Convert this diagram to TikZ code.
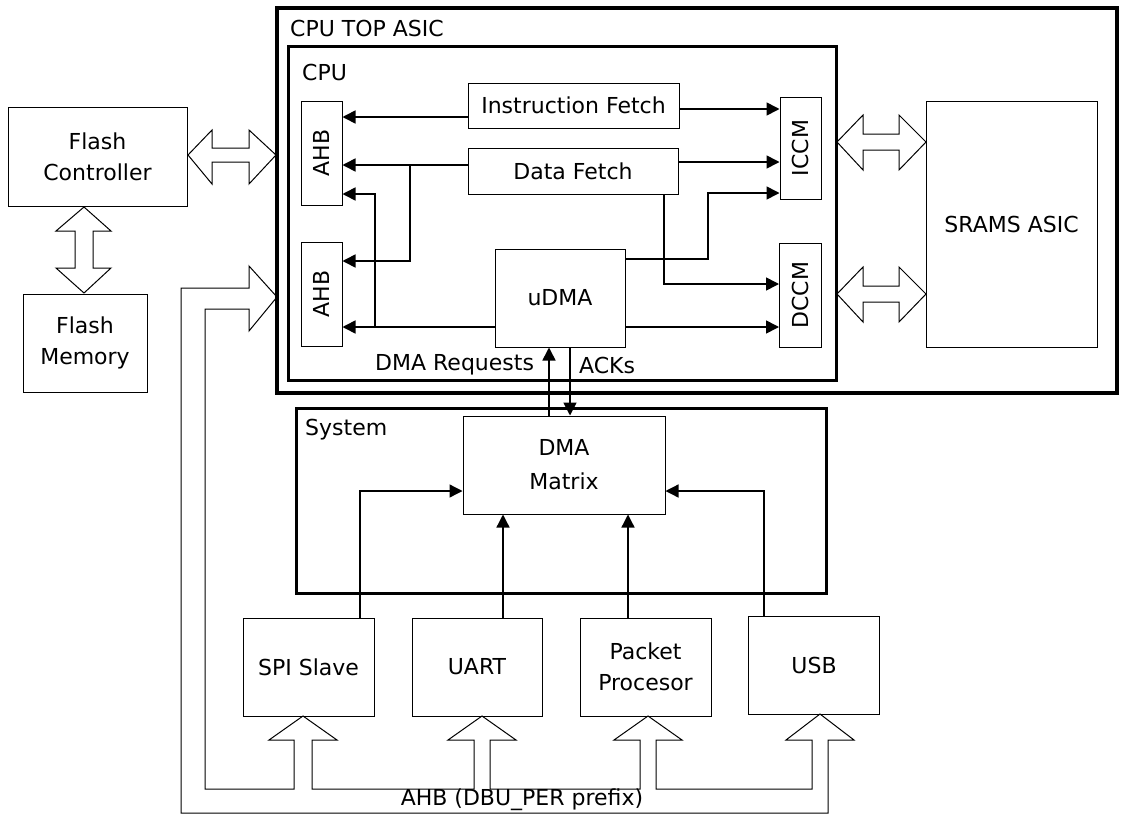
\documentclass[tikz,border=0pt]{standalone}
\usepackage{fontspec}
\setmainfont{DejaVu Sans}
\usepackage{graphicx}
\usetikzlibrary{arrows.meta}

\begin{document}
\begin{tikzpicture}[x=1pt, y=-1pt,
    box/.style={draw, line width=1pt, inner sep=0pt, align=center, font=\fontsize{22}{31}\selectfont},
    frame/.style={draw, inner sep=0pt},
    lbl/.style={anchor=west, inner sep=0pt, font=\fontsize{22}{31}\selectfont},
    sig/.style={-{Triangle[length=13pt, width=13pt]}, line width=1.6pt},
    bus/.style={draw, line width=1pt, line join=miter}]

    \useasboundingbox (0,0) rectangle (1130,825);

    % frames
    \node [frame, line width=4.5pt, minimum width=840pt, minimum height=385pt] (cputop) at (697,200.5) {};
    \node [lbl] (cputoplbl) at (290,28) {CPU TOP ASIC};
    \node [frame, line width=3pt, minimum width=548pt, minimum height=334pt] (cpu) at (562,213) {};
    \node [lbl] (cpulbl) at (302,72) {CPU};
    \node [frame, line width=3pt, minimum width=530pt, minimum height=185pt] (system) at (561,500.5) {};
    \node [lbl] (systemlbl) at (305,430) {System};

    % blocks
    \node [box, minimum width=179pt, minimum height=99pt] (flashctrl) at (97.5,156.5) {Flash\\Controller};
    \node [box, minimum width=124pt, minimum height=98pt] (flashmem) at (85,343) {Flash\\Memory};
    \node [box, minimum width=41pt, minimum height=104pt] (ahbA) at (321.5,153) {\rotatebox{90}{AHB}};
    \node [box, minimum width=41pt, minimum height=104pt] (ahbB) at (321.5,294) {\rotatebox{90}{AHB}};
    \node [box, minimum width=211pt, minimum height=45pt] (ifetch) at (573.5,105.5) {Instruction Fetch};
    \node [box, minimum width=210pt, minimum height=46pt] (dfetch) at (573,171) {Data Fetch};
    \node [box, minimum width=41pt, minimum height=102pt] (iccm) at (800.5,148) {\rotatebox{90}{ICCM}};
    \node [box, minimum width=42pt, minimum height=104pt] (dccm) at (800.5,295) {\rotatebox{90}{DCCM}};
    \node [box, minimum width=130pt, minimum height=98pt] (udma) at (560,298) {uDMA};
    \node [box, minimum width=171pt, minimum height=246pt] (srams) at (1011.5,224) {SRAMS ASIC};
    \node [box, minimum width=202pt, minimum height=98pt, font=\fontsize{22}{34}\selectfont] (dmamx) at (564,465) {DMA\\Matrix};
    \node [box, minimum width=131pt, minimum height=98pt] (spi) at (308.5,667) {SPI Slave};
    \node [box, minimum width=130pt, minimum height=98pt] (uart) at (477,667) {UART};
    \node [box, minimum width=131pt, minimum height=98pt] (pkt) at (645.5,667) {Packet\\Procesor};
    \node [box, minimum width=131pt, minimum height=98pt] (usb) at (814,665) {USB};

    \node [lbl] (reqlbl) at (375,365) {DMA Requests};
    \node [lbl] (acklbl) at (579,365) {ACKs};
    \node [lbl, anchor=center] (buslbl) at (522,800) {AHB (DBU\_PER prefix)};

    % cpu signals
    \coordinate (dfsplit) at (410,165);
    \coordinate (udmasplit) at (375,327);
    \draw [sig] (ifetch.west |- 0,117) -- (ahbA.east |- 0,117);
    \draw [sig] (ifetch.east |- 0,109) -- (iccm.west |- 0,109);
    \draw [sig] (dfetch.west |- 0,165) -- (ahbA.east |- 0,165);
    \draw [sig] (dfsplit) |- (ahbB.east |- 0,261);
    \draw [sig] (dfetch.east |- 0,162) -- (iccm.west |- 0,162);
    \draw [sig] (dfetch.south -| 664,0) |- (dccm.west |- 0,284);
    \draw [sig] (udma.east |- 0,259) -| (708,193) -- (iccm.west |- 0,193);
    \draw [sig] (udma.west |- 0,327) -- (ahbB.east |- 0,327);
    \draw [sig] (udmasplit) |- (ahbA.east |- 0,194);
    \draw [sig] (udma.east |- 0,327) -- (dccm.west |- 0,327);
    \draw [sig] (dmamx.north -| 549,0) -- (udma.south -| 549,0);
    \draw [sig] (udma.south -| 570,0) -- (dmamx.north -| 570,0);

    % system signals
    \draw [sig, line width=1.3pt] (spi.north -| 360,0) |- (dmamx.west |- 0,491);
    \draw [sig, line width=1.3pt] (uart.north -| 503,0) -- (dmamx.south -| 503,0);
    \draw [sig, line width=1.3pt] (pkt.north -| 628,0) -- (dmamx.south -| 628,0);
    \draw [sig, line width=1.3pt] (usb.north -| 764,0) |- (dmamx.east |- 0,491);

    % wide buses
    \draw [bus] (188,155) -- (212,130) -- (212,148) -- (249,148) -- (249,130) -- (276,155)
        -- (249,184) -- (249,162) -- (212,162) -- (212,184) -- cycle;
    \draw [bus] (84,207) -- (111,231) -- (93,231) -- (93,268) -- (111,268) -- (84,293)
        -- (56,268) -- (75,268) -- (75,231) -- (56,231) -- cycle;
    \draw [bus] (837,142) -- (863,115) -- (863,134) -- (899,134) -- (899,115) -- (926,142)
        -- (899,170) -- (899,150) -- (863,150) -- (863,170) -- cycle;
    \draw [bus] (837,294) -- (863,267) -- (863,286) -- (899,286) -- (899,267) -- (926,294)
        -- (899,322) -- (899,302) -- (863,302) -- (863,322) -- cycle;
    \draw [bus] (277,297) -- (249,266) -- (249,288) -- (181,288) -- (181,813) -- (828,813)
        -- (828,740) -- (854,740) -- (820,714) -- (786,740) -- (812,740) -- (812,789)
        -- (656,789) -- (656,740) -- (682,740) -- (648,716) -- (614,740) -- (640,740) -- (640,789)
        -- (490,789) -- (490,740) -- (516,740) -- (482,716) -- (448,740) -- (474,740) -- (474,789)
        -- (312,789) -- (312,740) -- (337,740) -- (303,716) -- (269,740) -- (294,740) -- (294,789)
        -- (205,789) -- (205,309) -- (249,309) -- (249,331) -- cycle;

\end{tikzpicture}
\end{document}
